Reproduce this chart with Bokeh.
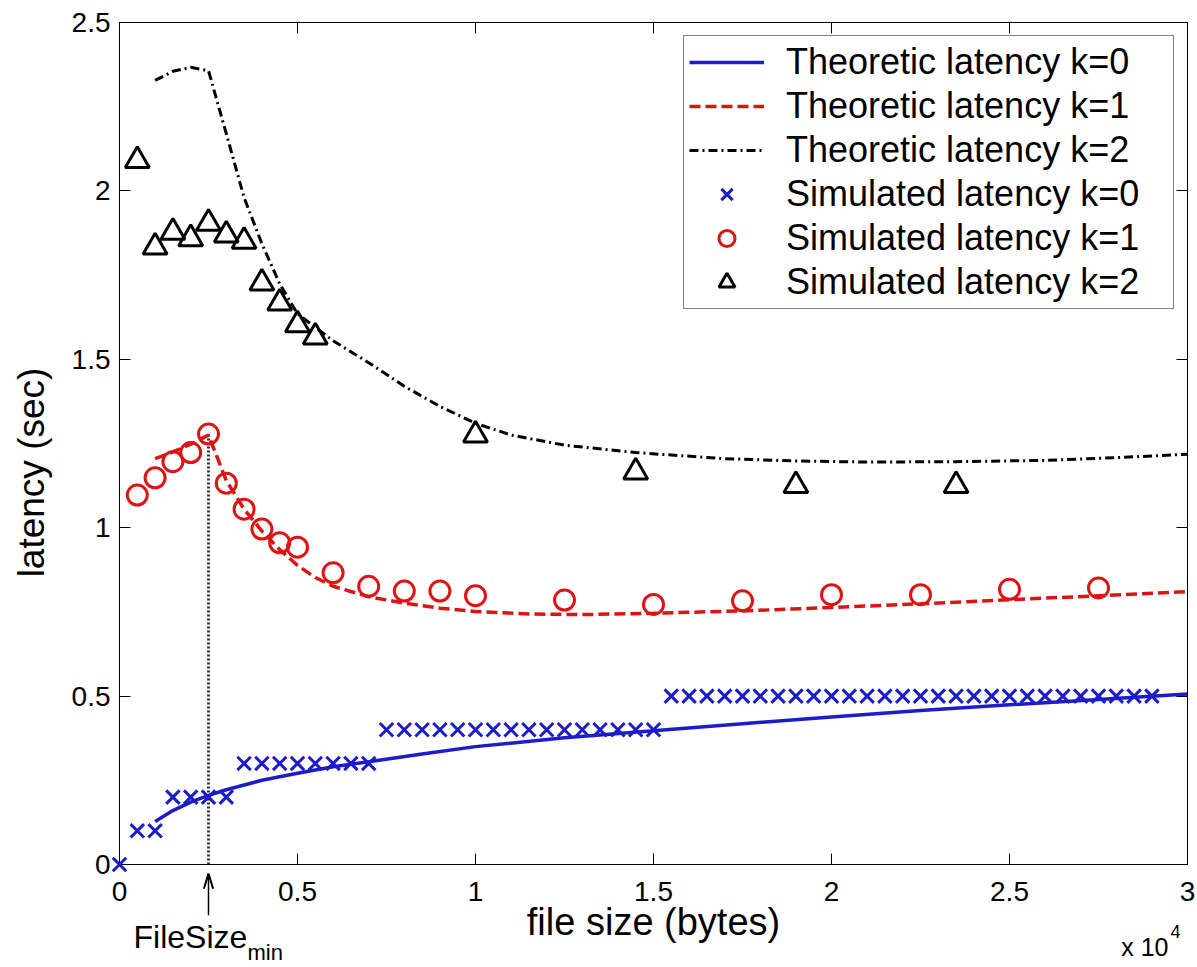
import math
from bokeh.plotting import figure
from bokeh.models import Range1d, FixedTicker, LinearAxis, Legend, LegendItem
from bokeh.core.properties import value
from bokeh.embed import file_html
from bokeh.resources import INLINE

# ---------------- data (file size in bytes, latency in seconds) ----------------
X_TICKS = [0, 5000, 10000, 15000, 20000, 25000, 30000]
X_TICK_LABELS = ["0", "0.5", "1", "1.5", "2", "2.5", "3"]
Y_TICKS = [0, 0.5, 1, 1.5, 2, 2.5]
Y_TICK_LABELS = ["0", "0.5", "1", "1.5", "2", "2.5"]

FILESIZE_MIN = 2500

theo0_x = [1000, 1500, 2000, 2500, 3000, 4000, 5000, 6000, 7000, 8500, 10000,
           12500, 15000, 17500, 20000, 22500, 25000, 27500, 30000]
theo0_y = [0.128, 0.160, 0.185, 0.205, 0.222, 0.250, 0.271, 0.290, 0.305, 0.328,
           0.350, 0.376, 0.397, 0.418, 0.438, 0.457, 0.474, 0.490, 0.506]

theo1_x = [1000, 1500, 2000, 2500, 3000, 3500, 4000, 4500, 5000, 5500, 6000, 7000,
           8000, 9000, 10000, 11500, 13000, 15000, 17500, 20000, 22500, 25000,
           27500, 30000]
theo1_y = [1.205, 1.225, 1.248, 1.275, 1.140, 1.055, 0.990, 0.935, 0.888, 0.852,
           0.826, 0.795, 0.776, 0.761, 0.751, 0.744, 0.742, 0.746, 0.753, 0.763,
           0.774, 0.786, 0.798, 0.810]

theo2_x = [1000, 1500, 2000, 2500, 3000, 3500, 4000, 4500, 5000, 5500, 6000, 7000,
           8000, 9000, 10000, 11000, 12500, 14500, 17000, 19000, 21000, 23500,
           26000, 28000, 30000]
theo2_y = [2.328, 2.355, 2.367, 2.357, 2.170, 1.980, 1.843, 1.724, 1.635, 1.595,
           1.555, 1.490, 1.420, 1.360, 1.310, 1.275, 1.245, 1.223, 1.205, 1.198,
           1.195, 1.196, 1.200, 1.208, 1.218]

sim0_x = [0, 500, 1000, 1500, 2000, 2500, 3000, 3500, 4000, 4500, 5000, 5500, 6000,
          6500, 7000, 7500, 8000, 8500, 9000, 9500, 10000, 10500, 11000, 11500,
          12000, 12500, 13000, 13500, 14000, 14500, 15000, 15500, 16000, 16500,
          17000, 17500, 18000, 18500, 19000, 19500, 20000, 20500, 21000, 21500,
          22000, 22500, 23000, 23500, 24000, 24500, 25000, 25500, 26000, 26500,
          27000, 27500, 28000, 28500, 29000]
sim0_y = [0.0, 0.1, 0.1, 0.2, 0.2, 0.2, 0.2, 0.3, 0.3, 0.3, 0.3, 0.3, 0.3, 0.3, 0.3,
          0.4, 0.4, 0.4, 0.4, 0.4, 0.4, 0.4, 0.4, 0.4, 0.4, 0.4, 0.4, 0.4, 0.4, 0.4,
          0.4, 0.5, 0.5, 0.5, 0.5, 0.5, 0.5, 0.5, 0.5, 0.5, 0.5, 0.5, 0.5, 0.5, 0.5,
          0.5, 0.5, 0.5, 0.5, 0.5, 0.5, 0.5, 0.5, 0.5, 0.5, 0.5, 0.5, 0.5, 0.5]

sim1_x = [500, 1000, 1500, 2000, 2500, 3000, 3500, 4000, 4500, 5000, 6000, 7000,
          8000, 9000, 10000, 12500, 15000, 17500, 20000, 22500, 25000, 27500]
sim1_y = [1.097, 1.148, 1.196, 1.223, 1.278, 1.132, 1.055, 0.996, 0.955, 0.942,
          0.866, 0.826, 0.812, 0.812, 0.798, 0.785, 0.772, 0.783, 0.801, 0.801,
          0.817, 0.821]

sim2_x = [500, 1000, 1500, 2000, 2500, 3000, 3500, 4000, 4500, 5000, 5500, 10000,
          14500, 19000, 23500]
sim2_y = [2.090, 1.833, 1.877, 1.858, 1.904, 1.869, 1.850, 1.726, 1.667, 1.602,
          1.566, 1.275, 1.165, 1.125, 1.125]

LABELS = ["Theoretic latency k=0", "Theoretic latency k=1", "Theoretic latency k=2",
          "Simulated latency k=0", "Simulated latency k=1", "Simulated latency k=2"]

X_LABEL = "file size (bytes)"
Y_LABEL = "latency (sec)"
MULT_BASE = "x 10"
MULT_EXP = "4"
FS_MAIN = "FileSize"
FS_SUB = "min"

BLUE = "#1c1cc8"
RED = "#dd1414"
BLACK = "#000000"
FONT = "Liberation Sans"
X0, Y0 = 0, 0

# ---------------- figure ----------------
p = figure(width=1197, height=967,
           x_range=Range1d(0, 30000), y_range=Range1d(0, 2.5),
           output_backend="svg", toolbar_location=None,
           min_border_left=119, min_border_right=10,
           min_border_top=22, min_border_bottom=103)
p.background_fill_color = "white"
p.border_fill_color = "white"
p.xgrid.visible = False
p.ygrid.visible = False
p.outline_line_color = BLACK
p.outline_line_width = 1
p.outline_line_alpha = 1


def style_axis(ax, ticks, labels, show_labels, standoff):
    ax.ticker = FixedTicker(ticks=ticks)
    ax.major_tick_in = 11
    ax.major_tick_out = 0
    ax.major_tick_line_color = BLACK
    ax.major_tick_line_width = 1
    ax.minor_tick_line_color = None
    ax.axis_line_color = BLACK
    ax.major_label_standoff = standoff
    if show_labels:
        ax.major_label_overrides = {t: l for t, l in zip(ticks, labels)}
        ax.major_label_text_font = FONT
        ax.major_label_text_color = BLACK
        ax.major_label_text_font_size = "28px"
    else:
        ax.major_label_text_color = None
        ax.major_label_text_font_size = "1px"


style_axis(p.xaxis[0], X_TICKS, X_TICK_LABELS, True, 17)
style_axis(p.yaxis[0], Y_TICKS, Y_TICK_LABELS, True, 9)

top_axis = LinearAxis()
style_axis(top_axis, X_TICKS, X_TICK_LABELS, False, 0)
p.add_layout(top_axis, "above")
right_axis = LinearAxis()
style_axis(right_axis, Y_TICKS, Y_TICK_LABELS, False, 0)
p.add_layout(right_axis, "right")

# FileSize_min vertical dotted marker
p.line([FILESIZE_MIN, FILESIZE_MIN], [0, max(theo1_y)], line_color="#333333",
       line_width=3, line_dash="2 2")

# theoretical curves
r_t0 = p.line(theo0_x, theo0_y, line_color=BLUE, line_width=3.5)
r_t1 = p.line(theo1_x, theo1_y, line_color=RED, line_width=3.5, line_dash="11 5")
r_t2 = p.line(theo2_x, theo2_y, line_color=BLACK, line_width=3, line_dash="9 4 2 4")

# simulated points (k=0 markers drawn unclipped, like the original, at the origin)
r_s0 = p.scatter(sim0_x, sim0_y, marker="x", size=19, line_color=BLUE, line_width=3,
                 level="overlay")
r_s1 = p.scatter(sim1_x, sim1_y, marker="circle", size=20, line_color=RED,
                 line_width=3, fill_color=None)
r_s2 = p.scatter(sim2_x, sim2_y, marker="triangle", size=24, line_color=BLACK,
                 line_width=3, fill_color=None)

legend = Legend(
    items=[LegendItem(label=l, renderers=[r]) for l, r in
           zip(LABELS, [r_t0, r_t1, r_t2, r_s0, r_s1, r_s2])],
    location="top_right", margin=13, padding=5, spacing=2,
    glyph_width=75, glyph_height=40, label_height=40, label_width=382,
    label_standoff=22, label_text_font=FONT, label_text_font_size="36px",
    label_text_color=BLACK, border_line_color=BLACK, border_line_width=1,
    background_fill_color="white", background_fill_alpha=1)
p.add_layout(legend)


def outside_text(x, txt, dx, dy, size, align="left", angle=0.0):
    # text placed outside the axes box, offset in pixels from an anchor point
    p.text(x=[x], y=[Y0], text=[txt], x_offset=dx, y_offset=dy, angle=angle,
           text_font=value(FONT), text_font_size=value(size), text_color=BLACK,
           text_align=align, text_baseline="alphabetic", level="overlay")


outside_text(X0, X_LABEL, 534, 57, "38px", "center")
outside_text(X0, Y_LABEL, -88, -392, "37px", "center", math.pi / 2)
outside_text(X0, MULT_BASE, 1049, 82, "25px", "right")
outside_text(X0, MULT_EXP, 1051, 67, "18px", "left")
outside_text(FILESIZE_MIN, FS_MAIN, -75, 72, "32px", "left")
outside_text(FILESIZE_MIN, FS_SUB, 39, 88, "22px", "left")

# arrow pointing at FileSize_min
p.segment(x0=[FILESIZE_MIN], y0=[-0.151], x1=[FILESIZE_MIN], y1=[-0.030],
          line_color=BLACK, line_width=1.5, level="overlay")
p.segment(x0=[FILESIZE_MIN - 130, FILESIZE_MIN + 130], y0=[-0.072, -0.072],
          x1=[FILESIZE_MIN, FILESIZE_MIN], y1=[-0.027, -0.027],
          line_color=BLACK, line_width=2, level="overlay")
p.scatter(x=[FILESIZE_MIN], y=[-0.048], marker="triangle", size=12,
          line_color=BLACK, fill_color=BLACK, level="overlay")

open("out.html", "w").write(file_html(p, INLINE))
